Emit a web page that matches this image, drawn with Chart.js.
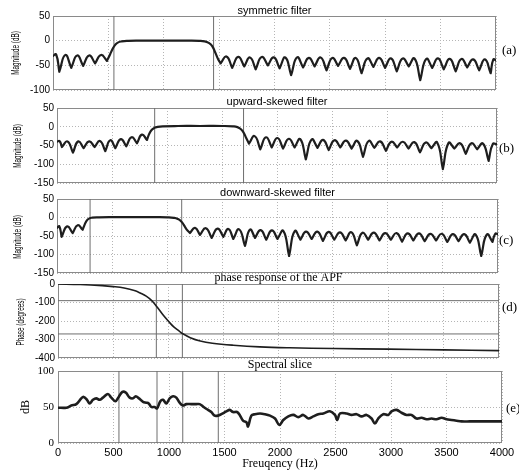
<!DOCTYPE html>
<html>
<head>
<meta charset="utf-8">
<script src="https://cdn.jsdelivr.net/npm/chart.js@4.4.0/dist/chart.umd.min.js"></script>
<style>
  body { margin: 0; background: #fff; }
  #page { position: relative; width: 519px; height: 473px; overflow: hidden; background: #fff; }
  .panel { position: absolute; left: 0; width: 519px; }
  .tag { position: absolute; font: 13px "Liberation Serif", serif; color: #000; transform: translateY(-50%); }
  .ylab { position: absolute; font: 11px "Liberation Sans", sans-serif; color: #000; white-space: nowrap;
          transform: translate(-50%, -50%) rotate(-90deg) scaleX(0.58); }
</style>
</head>
<body>
<div id="page">
  <div class="ylab" style="left:15px;top:53px">Magnitude (dB)</div>
  <div class="ylab" style="left:17px;top:146px">Magnitude (dB)</div>
  <div class="ylab" style="left:17px;top:237px">Magnitude (dB)</div>
  <div class="ylab" style="left:20px;top:322px">Phase (degrees)</div>
  <div class="tag" style="left:502px;top:50px">(a)</div>
  <div class="tag" style="left:499px;top:148px">(b)</div>
  <div class="tag" style="left:499px;top:240px">(c)</div>
  <div class="tag" style="left:502px;top:307px">(d)</div>
  <div class="tag" style="left:506px;top:408px">(e)</div>
</div>
<script>
// ---- (a) symmetric filter: nulls of the side lobes, peaks between them, passband
const symLeftNullHz = [0, 57, 165, 272, 380, 487];
const symLeftNullDb = [-31, -63, -55, -51, -46, -41];
const symLeftPeakDb = [-28, -29, -30, -30, -29];
const symPassHz = [487, 515, 540, 560, 585, 620, 680, 800, 1000, 1200, 1320, 1370, 1410, 1440, 1465, 1490, 1514];
const symPassDb = [-41, -28, -16, -9, -4, -1.5, -0.3, 0, 0, 0, -0.3, -1.5, -5, -12, -24, -37, -46];
const symRightNullHz = [1514, 1618, 1727, 1830, 1940, 2046, 2150, 2258, 2362, 2470, 2574, 2682, 2786, 2893, 2998, 3104, 3212, 3316, 3424, 3528, 3636, 3740, 3848, 3952, 4000];
const symRightNullDb = [-46, -55, -52, -58, -50, -56, -70, -54, -52, -60, -51, -57, -66, -53, -55, -62, -52, -80, -55, -58, -62, -54, -60, -66, -40];
const symRightPeakDb = [-32, -33, -34, -33, -34, -34, -34, -35, -34, -35, -35, -35, -36, -35, -36, -36, -36, -37, -36, -37, -37, -38, -38, -38];
const symEdgesHz = [550, 1450];

// ---- (b) upward-skewed filter
const upLeftNullHz = [0, 45, 145, 242, 342, 439, 530, 630, 727, 818];
const upLeftNullDb = [-40, -54, -69, -57, -54, -65, -57, -52, -44, -35];
const upLeftPeakDb = [-38, -39, -39, -39, -38, -36, -33, -28, -21];
const upPassHz = [818, 840, 862, 885, 915, 960, 1100, 1300, 1500, 1600, 1640, 1670, 1695, 1720, 1745];
const upPassDb = [-35, -18, -8, -3, -0.5, 1, 2, 2, 2, 1, -1, -6, -15, -30, -45];
const upRightNullHz = [1745, 1848, 1952, 2055, 2160, 2262, 2368, 2470, 2575, 2678, 2782, 2885, 2990, 3092, 3196, 3300, 3404, 3508, 3612, 3716, 3820, 3924, 4000];
const upRightNullDb = [-45, -60, -55, -58, -55, -87, -56, -62, -55, -58, -80, -56, -64, -55, -58, -68, -57, -113, -58, -72, -60, -91, -47];
const upRightPeakDb = [-25, -28, -30, -32, -33, -34, -35, -36, -37, -38, -38, -39, -40, -40, -41, -42, -42, -43, -44, -44, -45, -46];
const upEdgesHz = [888, 1696];

// ---- (c) downward-skewed filter
const downLeftNullHz = [0, 42, 142, 233];
const downLeftNullDb = [-28, -52, -42, -33];
const downLeftPeakDb = [-24, -24, -21];
const downPassHz = [233, 250, 268, 290, 320, 380, 500, 700, 900, 1000, 1060, 1095, 1125, 1150, 1175, 1206];
const downPassDb = [-33, -20, -9, -3, -0.5, 0.5, 1, 1, 1, 0.5, -1, -4, -10, -20, -32, -42];
const downRightNullHz = [1206, 1297, 1403, 1509, 1599, 1705, 1796, 1898, 2000, 2105, 2208, 2310, 2412, 2515, 2618, 2720, 2822, 2925, 3028, 3130, 3232, 3335, 3438, 3540, 3642, 3745, 3848, 3950, 4000];
const downRightNullDb = [-42, -47, -55, -52, -58, -77, -55, -60, -58, -104, -60, -58, -63, -60, -62, -75, -60, -62, -60, -65, -62, -64, -62, -66, -64, -68, -104, -66, -45];
const downRightPeakDb = [-28, -29, -30, -31, -32, -33, -34, -35, -36, -37, -38, -38, -39, -40, -40, -41, -41, -42, -42, -43, -43, -44, -44, -45, -45, -46, -46, -44];
const downEdgesHz = [300, 1131];

// ---- (d) phase response of the APF
const apfHz = [0, 200, 400, 500, 600, 700, 750, 800, 850, 893, 950, 1000, 1050, 1100, 1129, 1200, 1290, 1400, 1590, 1830, 2100, 2500, 3000, 3500, 4000];
const apfDeg = [0, -3, -9, -14, -22, -37, -50, -66, -90, -120, -165, -200, -232, -255, -268, -290, -308, -320, -331, -340, -345, -349, -352, -356, -360];
const apfEdgesHz = [892, 1128];
const apfRefDeg = [-90, -270];

// ---- (e) spectral slice
const sliceHz = [0, 75, 120, 165, 210, 231, 261, 285, 315, 345, 375, 405, 450, 480, 517, 547, 580, 610, 646, 676, 700, 730, 766, 796, 817, 841, 871, 892, 922, 946, 976, 1006, 1036, 1066, 1096, 1126, 1156, 1201, 1246, 1276, 1312, 1351, 1381, 1411, 1441, 1471, 1517, 1547, 1577, 1613, 1637, 1667, 1697, 1712, 1742, 1775, 1820, 1865, 1910, 1955, 1994, 2030, 2075, 2120, 2165, 2210, 2255, 2300, 2345, 2390, 2450, 2495, 2516, 2540, 2600, 2645, 2690, 2735, 2780, 2825, 2855, 2885, 2930, 2975, 3005, 3050, 3095, 3140, 3185, 3230, 3275, 3320, 3365, 3410, 3455, 3500, 3545, 3590, 3635, 3710, 3830, 4000];
const sliceDb = [49, 49, 52, 54, 62, 64, 60, 55, 60, 62, 60, 63, 68, 63, 58, 64, 71, 70, 63, 62, 65, 62, 57, 56, 55, 50, 50, 48, 58, 60, 55, 62, 65, 63, 56, 52, 54, 54, 54, 54, 50, 46, 43, 38, 38, 40, 44, 46, 43, 43, 39, 31, 29, 23, 38, 40, 41, 40, 38, 34, 25, 32, 37, 39, 36, 39, 34, 37, 40, 41, 44, 39, 32, 41, 41, 39, 40, 37, 39, 34, 27, 34, 40, 39, 44, 46, 42, 39, 39, 34, 35, 33, 34, 33, 35, 33, 32, 31, 30, 30, 30, 30];
const sliceEdgesHz = [549, 892, 1124, 1444];

const SANS = '"Liberation Sans", Arial, sans-serif';
const SERIF = '"Liberation Serif", "Times New Roman", serif';
const INK = '#1e1e1e';
const EDGE = '#6e6e6e';

// one arch per side lobe; a gap after each null keeps the null a sharp cusp
function lobes(nullHz, nullDb, peakDb) {
  const pts = [];
  for (let i = 0; i < nullHz.length - 1; i++) {
    pts.push({ x: nullHz[i], y: nullDb[i] });
    pts.push({ x: (nullHz[i] + nullHz[i + 1]) / 2, y: peakDb[i] });
    pts.push({ x: nullHz[i + 1], y: nullDb[i + 1] });
    pts.push({ x: nullHz[i + 1], y: null });
  }
  return pts;
}

function pairs(xs, ys) {
  return xs.map((x, i) => ({ x: x, y: ys[i] }));
}

function filterCurve(lN, lD, lP, pH, pD, rN, rD, rP) {
  const data = lobes(lN, lD, lP)
    .concat(pairs(pH, pD), [{ x: pH[pH.length - 1], y: null }])
    .concat(lobes(rN, rD, rP));
  return { data: data, borderColor: INK, borderWidth: 2.2, tension: 0.5,
           borderCapStyle: 'round', borderJoinStyle: 'round' };
}

function vLines(hz, lo, hi) {
  return hz.map(f => ({ data: [{ x: f, y: lo }, { x: f, y: hi }], borderColor: EDGE, borderWidth: 1, tension: 0 }));
}

function hLines(vals) {
  return vals.map(v => ({ data: [{ x: 0, y: v }, { x: 4000, y: v }], borderColor: EDGE, borderWidth: 1, tension: 0 }));
}

const boxPlugin = {
  id: 'box',
  beforeDatasetsDraw(chart) {
    const a = chart.chartArea;
    const ctx = chart.ctx;
    ctx.save();
    ctx.strokeStyle = '#8a8a8a';
    ctx.lineWidth = 1;
    ctx.strokeRect(Math.round(a.left) + 0.5, Math.round(a.top) + 0.5, Math.round(a.right - a.left) - 1, Math.round(a.bottom - a.top) - 1);
    ctx.restore();
  }
};

const panels = [
  { left: 53, right: 496, top: 16, bottom: 91, titleY: 10, title: 'symmetric filter', tFont: SANS, tSize: 11,
    yMin: -100, yMax: 50, yStep: 50, yFont: SANS,
    datasets: [filterCurve(symLeftNullHz, symLeftNullDb, symLeftPeakDb, symPassHz, symPassDb, symRightNullHz, symRightNullDb, symRightPeakDb)]
      .concat(vLines(symEdgesHz, -100, 50)) },
  { left: 57, right: 497, top: 108, bottom: 184, titleY: 101, title: 'upward-skewed filter', tFont: SANS, tSize: 11,
    yMin: -150, yMax: 50, yStep: 50, yFont: SANS,
    datasets: [filterCurve(upLeftNullHz, upLeftNullDb, upLeftPeakDb, upPassHz, upPassDb, upRightNullHz, upRightNullDb, upRightPeakDb)]
      .concat(vLines(upEdgesHz, -150, 50)) },
  { left: 57, right: 498, top: 199, bottom: 274, titleY: 192.5, title: 'downward-skewed filter', tFont: SANS, tSize: 11,
    yMin: -150, yMax: 50, yStep: 50, yFont: SANS,
    datasets: [filterCurve(downLeftNullHz, downLeftNullDb, downLeftPeakDb, downPassHz, downPassDb, downRightNullHz, downRightNullDb, downRightPeakDb)]
      .concat(vLines(downEdgesHz, -150, 50)) },
  { left: 58, right: 499, top: 284, bottom: 359, titleY: 278, title: 'phase response of the APF', tFont: SERIF, tSize: 12,
    yMin: -400, yMax: 0, yStep: 100, yFont: SANS,
    datasets: [{ data: pairs(apfHz, apfDeg), borderColor: INK, borderWidth: 1.6, tension: 0.4 }]
      .concat(vLines(apfEdgesHz, -400, 0), hLines(apfRefDeg)) },
  { left: 58, right: 502, top: 371, bottom: 443, titleY: 364.5, title: 'Spectral slice', tFont: SERIF, tSize: 12,
    yMin: 0, yMax: 100, yStep: 50, yFont: SERIF, last: true,
    datasets: [{ data: pairs(sliceHz, sliceDb), borderColor: INK, borderWidth: 2.6, tension: 0.35 }]
      .concat(vLines(sliceEdgesHz, 0, 100)) }
];

const page = document.getElementById('page');

panels.forEach(p => {
  const T = Math.round(p.titleY - p.tSize / 2);
  const padTitle = Math.max(0, p.top - (T + p.tSize));
  const H = p.last ? 473 - T : p.bottom + 8 - T;
  const div = document.createElement('div');
  div.className = 'panel';
  div.style.top = T + 'px';
  div.style.height = H + 'px';
  const canvas = document.createElement('canvas');
  div.appendChild(canvas);
  page.insertBefore(div, page.firstChild);

  new Chart(canvas.getContext('2d'), {
    type: 'line',
    data: { datasets: p.datasets },
    options: {
      responsive: true,
      maintainAspectRatio: false,
      animation: false,
      layout: { padding: { left: 0, right: 519 - p.right, top: 0, bottom: p.last ? 0 : 8 } },
      elements: { point: { radius: 0 } },
      plugins: {
        legend: { display: false },
        tooltip: { enabled: false },
        title: {
          display: true, text: p.title, fullSize: false, color: '#000',
          font: { family: p.tFont, size: p.tSize, weight: 'normal', lineHeight: 1 },
          padding: { top: 0, bottom: padTitle }
        }
      },
      scales: {
        x: {
          type: 'linear', min: 0, max: 4000,
          ticks: { stepSize: 500, display: !!p.last, color: '#000', padding: 3, maxRotation: 0,
                   font: { family: SANS, size: 11 }, callback: v => String(v) },
          grid: { color: '#b5b5b5', drawTicks: false },
          border: { display: false, dash: [1, 2] },
          title: { display: !!p.last, text: 'Freuqency (Hz)', color: '#000',
                   font: { family: SERIF, size: 12 }, padding: { top: 0, bottom: 2 } },
          afterFit(s) { s.height = p.last ? 30 : 0; }
        },
        y: {
          min: p.yMin, max: p.yMax,
          ticks: { stepSize: p.yStep, color: '#000', padding: p.last ? 4 : 3,
                   font: { family: p.yFont, size: p.last ? 11 : 10 } },
          grid: { color: '#b5b5b5', drawTicks: false },
          border: { display: false, dash: [1, 2] },
          title: { display: !!p.last, text: 'dB', color: '#000',
                   font: { family: SERIF, size: 12 }, padding: { top: 18.5, bottom: 0 } },
          afterFit(s) { s.width = p.left; }
        }
      }
    },
    plugins: [boxPlugin]
  });
});
</script>
</body>
</html>
